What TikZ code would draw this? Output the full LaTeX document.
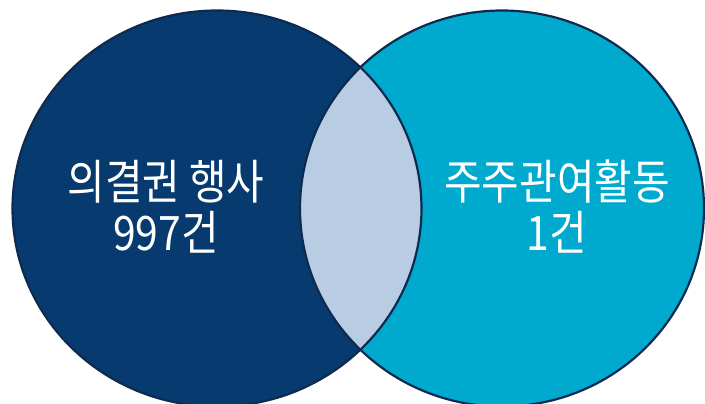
\documentclass[tikz,border=0pt]{standalone}
\usepackage{fontspec}
\newfontfamily\kr{Noto Sans CJK KR}
\definecolor{navy}{HTML}{073A6E}
\definecolor{cyanb}{HTML}{00AACF}
\definecolor{lens}{HTML}{B8CCE4}
\definecolor{edge}{HTML}{0E2B4F}
\tikzset{
  ring/.style={draw=edge, line width=2.2pt},
  lbl/.style={text=white, align=center, font=\kr\fontsize{47.5}{51}\selectfont, xscale=0.86, inner sep=0pt}
}
\begin{document}
\begin{tikzpicture}[x=1pt,y=-1pt]
\useasboundingbox (0,0) rectangle (705,404);
\begin{scope}
\clip (0,0) rectangle (705,404);
\fill[navy] (217,208.5) ellipse [x radius=204.5, y radius=198];
\fill[cyanb] (502,208.5) ellipse [x radius=202, y radius=198];
\begin{scope}
\clip (217,208.5) ellipse [x radius=204.5, y radius=198];
\fill[lens] (502,208.5) ellipse [x radius=202, y radius=198];
\end{scope}
\draw[ring] (217,208.5) ellipse [x radius=204.5, y radius=198];
\draw[ring] (502,208.5) ellipse [x radius=202, y radius=198];
\end{scope}
\node[lbl] (vote) at (166,207) {의결권 행사\\997건};
\node[lbl] (eng) at (557,207) {주주관여활동\\1건};
\end{tikzpicture}
\end{document}
